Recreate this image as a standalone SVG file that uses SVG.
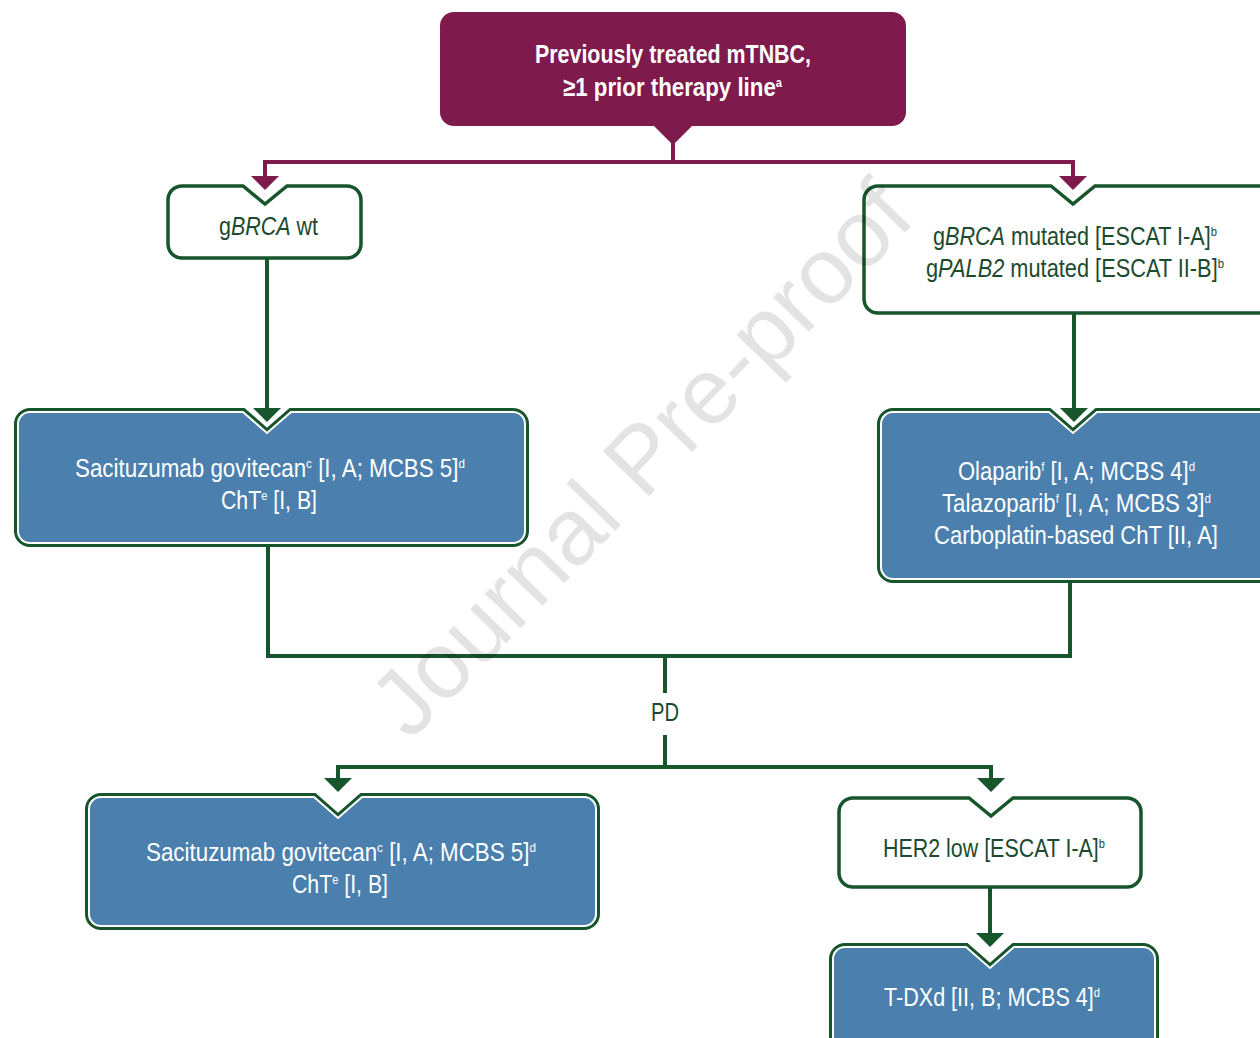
<svg xmlns="http://www.w3.org/2000/svg" width="1260" height="1038" viewBox="0 0 1260 1038">
<style>
  .wm { font-family: "Liberation Sans", Arial, sans-serif; font-size: 94px; fill: #000000; fill-opacity: 0.11; }
  .t { font-family: "Liberation Sans Narrow", "Liberation Sans", Arial, sans-serif; font-size: 25px; }
  .tb { font-weight: bold; fill: #ffffff; font-size: 26px; }
  .tw { fill: #ffffff; }
  .tg { fill: #1d4a2e; }
  .sup { font-size: 13px; }
  .wbox { fill: #ffffff; stroke: #17552c; stroke-width: 3.5; }
  .bout { fill: none; stroke: #17552c; stroke-width: 8; }
  .bin { fill: #4a7fae; stroke: #ffffff; stroke-width: 2; }
  .cm { fill: none; stroke: #7e1a4c; stroke-width: 4; }
  .cg { fill: none; stroke: #17552c; stroke-width: 4; }
</style>
<defs>
  <marker id="am" markerUnits="userSpaceOnUse" viewBox="0 -15 15 30" refX="0" refY="0" markerWidth="15" markerHeight="30" orient="auto-start-reverse">
    <path d="M0,-14 L14,0 L0,14 Z" fill="#7e1a4c"/>
  </marker>
  <marker id="ag" markerUnits="userSpaceOnUse" viewBox="0 -15 15 30" refX="0" refY="0" markerWidth="15" markerHeight="30" orient="auto-start-reverse">
    <path d="M0,-14 L14,0 L0,14 Z" fill="#17552c"/>
  </marker>
  <path id="pB1" d="M30,412 H243 L267,433 L291,412 H513 A12,12 0 0 1 525,424 V531 A12,12 0 0 1 513,543 H30 A12,12 0 0 1 18,531 V424 A12,12 0 0 1 30,412 Z"/>
  <path id="pB2" d="M893,412 H1049 L1073,433 L1097,412 H1280 V579 H893 A12,12 0 0 1 881,567 V424 A12,12 0 0 1 893,412 Z"/>
  <path id="pB3" d="M101,797 H314 L338,818 L362,797 H584 A12,12 0 0 1 596,809 V914 A12,12 0 0 1 584,926 H101 A12,12 0 0 1 89,914 V809 A12,12 0 0 1 101,797 Z"/>
  <path id="pB4" d="M845,947 H966 L990,968 L1014,947 H1143 A12,12 0 0 1 1155,959 V1060 H833 V959 A12,12 0 0 1 845,947 Z"/>
</defs>

<g id="connectors">
  <path class="cm" d="M673,138 V162"/>
  <path class="cm" d="M265,176 V162 H1073 V176" marker-start="url(#am)" marker-end="url(#am)"/>
  <path class="cg" d="M267,259 V408" marker-end="url(#ag)"/>
  <path class="cg" d="M1074,314 V408" marker-end="url(#ag)"/>
  <path class="cg" d="M268,546 V656 H1070 V581"/>
  <path class="cg" d="M665,656 V693"/>
  <path class="cg" d="M665,735 V767"/>
  <path class="cg" d="M338,778 V767 H991 V778" marker-start="url(#ag)" marker-end="url(#ag)"/>
  <path class="cg" d="M990,888 V933" marker-end="url(#ag)"/>
  <text class="t tg" x="651" y="721" textLength="28" lengthAdjust="spacingAndGlyphs">PD</text>
</g>

<g id="start">
  <rect x="440" y="12" width="466" height="114" rx="14" fill="#7e1a4c"/>
  <polygon points="652,124 694,124 673,145" fill="#7e1a4c"/>
  <text class="t tb" x="535" y="63" textLength="276" lengthAdjust="spacingAndGlyphs">Previously treated mTNBC,</text>
  <text class="t tb" x="563" y="96" textLength="219" lengthAdjust="spacingAndGlyphs">≥1 prior therapy line<tspan class="sup" dy="-9">a</tspan></text>
</g>

<g id="gbrca-wt">
  <path class="wbox" d="M182,186 H243 L265,204 L287,186 H347 A14,14 0 0 1 361,200 V244 A14,14 0 0 1 347,258 H182 A14,14 0 0 1 168,244 V200 A14,14 0 0 1 182,186 Z"/>
  <text class="t tg" x="219" y="235" textLength="99" lengthAdjust="spacingAndGlyphs">g<tspan font-style="italic">BRCA</tspan> wt</text>
</g>

<g id="gbrca-mut">
  <path class="wbox" d="M878,186 H1051 L1073,204 L1095,186 H1280 V313 H878 A14,14 0 0 1 864,299 V200 A14,14 0 0 1 878,186 Z"/>
  <text class="t tg" x="933" y="245" textLength="284" lengthAdjust="spacingAndGlyphs">g<tspan font-style="italic">BRCA</tspan> mutated [ESCAT I-A]<tspan class="sup" dy="-9">b</tspan></text>
  <text class="t tg" x="926" y="277" textLength="298" lengthAdjust="spacingAndGlyphs">g<tspan font-style="italic">PALB2</tspan> mutated [ESCAT II-B]<tspan class="sup" dy="-9">b</tspan></text>
</g>

<g id="sg-first">
  <use href="#pB1" class="bout"/>
  <use href="#pB1" class="bin"/>
  <text class="t tw" x="75" y="477" textLength="390" lengthAdjust="spacingAndGlyphs">Sacituzumab govitecan<tspan class="sup" dy="-9">c</tspan><tspan dy="9"> [I, A; MCBS 5]</tspan><tspan class="sup" dy="-9">d</tspan></text>
  <text class="t tw" x="221" y="509" textLength="96" lengthAdjust="spacingAndGlyphs">ChT<tspan class="sup" dy="-9">e</tspan><tspan dy="9"> [I, B]</tspan></text>
</g>

<g id="parpi">
  <use href="#pB2" class="bout"/>
  <use href="#pB2" class="bin"/>
  <text class="t tw" x="958" y="480" textLength="237" lengthAdjust="spacingAndGlyphs">Olaparib<tspan class="sup" dy="-9">f</tspan><tspan dy="9"> [I, A; MCBS 4]</tspan><tspan class="sup" dy="-9">d</tspan></text>
  <text class="t tw" x="942" y="512" textLength="269" lengthAdjust="spacingAndGlyphs">Talazoparib<tspan class="sup" dy="-9">f</tspan><tspan dy="9"> [I, A; MCBS 3]</tspan><tspan class="sup" dy="-9">d</tspan></text>
  <text class="t tw" x="934" y="544" textLength="284" lengthAdjust="spacingAndGlyphs">Carboplatin-based ChT [II, A]</text>
</g>

<g id="sg-second">
  <use href="#pB3" class="bout"/>
  <use href="#pB3" class="bin"/>
  <text class="t tw" x="146" y="861" textLength="390" lengthAdjust="spacingAndGlyphs">Sacituzumab govitecan<tspan class="sup" dy="-9">c</tspan><tspan dy="9"> [I, A; MCBS 5]</tspan><tspan class="sup" dy="-9">d</tspan></text>
  <text class="t tw" x="292" y="893" textLength="96" lengthAdjust="spacingAndGlyphs">ChT<tspan class="sup" dy="-9">e</tspan><tspan dy="9"> [I, B]</tspan></text>
</g>

<g id="her2-low">
  <path class="wbox" d="M853,798 H969 L991,816 L1013,798 H1127 A14,14 0 0 1 1141,812 V873 A14,14 0 0 1 1127,887 H853 A14,14 0 0 1 839,873 V812 A14,14 0 0 1 853,798 Z"/>
  <text class="t tg" x="883" y="857" textLength="222" lengthAdjust="spacingAndGlyphs">HER2 low [ESCAT I-A]<tspan class="sup" dy="-9">b</tspan></text>
</g>

<g id="tdxd">
  <use href="#pB4" class="bout"/>
  <use href="#pB4" class="bin"/>
  <text class="t tw" x="884" y="1006" textLength="216" lengthAdjust="spacingAndGlyphs">T-DXd [II, B; MCBS 4]<tspan class="sup" dy="-9">d</tspan></text>
</g>

<text class="wm" x="410" y="742" transform="rotate(-45.8 410 742)" textLength="728" lengthAdjust="spacingAndGlyphs">Journal Pre-proof</text>
</svg>
